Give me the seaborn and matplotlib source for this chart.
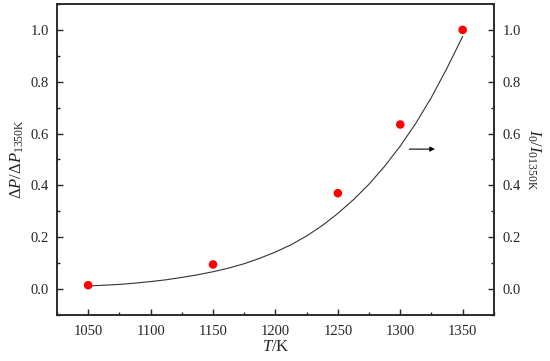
import matplotlib
matplotlib.use("Agg")
import matplotlib.pyplot as plt
import seaborn as sns
import pandas as pd
from matplotlib.ticker import MultipleLocator

# Data
temps = [1050, 1150, 1250, 1300, 1350]
dp_ratio = [0.015, 0.095, 0.37, 0.635, 1.0]

curve_T = [1050, 1062.5, 1075, 1087.5, 1100, 1112.5, 1125, 1137.5, 1150, 1162.5,
           1175, 1187.5, 1200, 1212.5, 1225, 1237.5, 1250, 1262.5, 1275, 1287.5,
           1300, 1312.5, 1325, 1337.5, 1350]
curve_I = [0.012, 0.015, 0.018, 0.023, 0.029, 0.036, 0.045, 0.055, 0.067, 0.081,
           0.098, 0.119, 0.143, 0.171, 0.205, 0.245, 0.292, 0.345, 0.405, 0.474,
           0.552, 0.640, 0.740, 0.853, 0.975]

xticks = [1050, 1100, 1150, 1200, 1250, 1300, 1350]
yticks = [0.0, 0.2, 0.4, 0.6, 0.8, 1.0]

sns.set_style("ticks")
plt.rcParams['font.family'] = ['Liberation Serif', 'DejaVu Serif']
plt.rcParams['mathtext.fontset'] = 'custom'
plt.rcParams['mathtext.rm'] = 'Liberation Serif'
plt.rcParams['mathtext.it'] = 'Liberation Serif:italic'
plt.rcParams['xtick.direction'] = 'in'
plt.rcParams['ytick.direction'] = 'in'

fig = plt.figure(figsize=(5.5, 3.61), dpi=100)
ax = fig.add_axes([0.1036, 0.1274, 0.7944, 0.8616])

pts = pd.DataFrame({"T": temps, "v": dp_ratio})
cur = pd.DataFrame({"T": curve_T, "v": curve_I})

sns.lineplot(data=cur, x="T", y="v", ax=ax, color="#333333", linewidth=0.8)
sns.scatterplot(data=pts, x="T", y="v", ax=ax, color="#ff0000", s=38, edgecolor="none", zorder=5)

ax.set_xlim(1025, 1375)
ax.set_ylim(-0.1, 1.1)
ax.set_xticks(xticks)
ax.set_yticks(yticks)
ax.set_yticklabels([f"{v:.1f}" for v in yticks])
ax.xaxis.set_minor_locator(MultipleLocator(25))
ax.yaxis.set_minor_locator(MultipleLocator(0.1))
ax.tick_params(which='major', length=4, width=1, labelsize=10.5)
ax.tick_params(axis='x', which='major', pad=7)
ax.tick_params(axis='y', which='major', pad=6)
ax.tick_params(which='minor', length=2, width=1)
for sp in ax.spines.values():
    sp.set_linewidth(1.1)
ax.set_xlabel(r"$T$/K", fontsize=12, labelpad=1)
ax.set_ylabel(r"$\mathit{\Delta P}/\mathit{\Delta P}_{\rm 1350K}$", fontsize=12, labelpad=3)

ax.annotate("", xy=(1330, 0.54), xytext=(1305, 0.54),
            arrowprops=dict(arrowstyle="-|>", color="black", lw=0.8,
                            mutation_scale=7))

ax2 = ax.twinx()
ax2.set_ylim(-0.1, 1.1)
ax2.set_yticks(yticks)
ax2.set_yticklabels([f"{v:.1f}" for v in yticks])
ax2.yaxis.set_minor_locator(MultipleLocator(0.1))
ax2.tick_params(which='major', length=4, width=1, labelsize=10.5, direction='in', pad=6)
ax2.tick_params(which='minor', length=2, width=1, direction='in')
ax2.set_ylabel(r"$I_{\rm 0}/I_{\rm 01350K}$", fontsize=12, rotation=270, labelpad=16)
for sp in ax2.spines.values():
    sp.set_linewidth(1.1)

fig.savefig("out.png", dpi=100)
